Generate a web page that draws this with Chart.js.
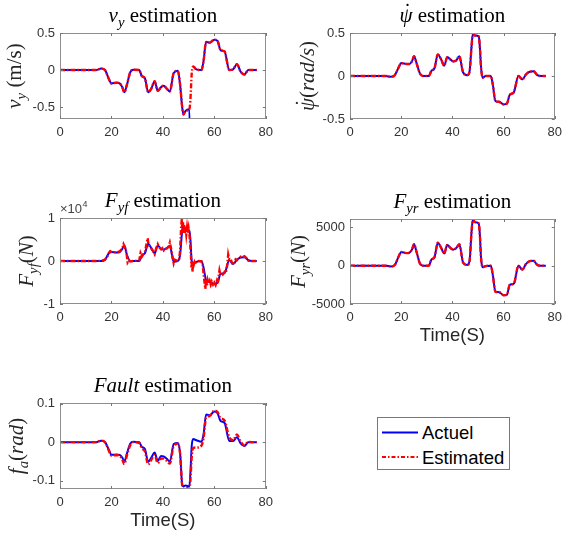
<!DOCTYPE html>
<html>
<head>
<meta charset="utf-8">
<script src="https://cdn.jsdelivr.net/npm/chart.js@4.4.0/dist/chart.umd.min.js"></script>
<style>
  body { margin: 0; background: #fff; }
  #fig { position: relative; width: 569px; height: 538px; overflow: hidden; background: #fff; }
  #fig canvas { position: absolute; }
  #legend { position: absolute; left: 0; top: 0; }
</style>
</head>
<body>
<div id="fig">
  <canvas id="vyChart"></canvas>
  <canvas id="psiChart"></canvas>
  <canvas id="fyfChart"></canvas>
  <canvas id="fyrChart"></canvas>
  <canvas id="faultChart"></canvas>
  <svg id="legend" width="569" height="538">
    <rect x="377.5" y="417.5" width="132" height="52" fill="#fff" stroke="#777" stroke-width="1"/>
    <line x1="382" y1="432.5" x2="418" y2="432.5" stroke="#0000ff" stroke-width="2"/>
    <line x1="382" y1="457" x2="418" y2="457" stroke="#ff0000" stroke-width="2" stroke-dasharray="4,2,1.5,2"/>
    <text x="422" y="439" font-family="Liberation Sans" font-size="18.5" fill="#000">Actuel</text>
    <text x="422" y="463.5" font-family="Liberation Sans" font-size="18.5" fill="#000">Estimated</text>
  </svg>
</div>
<script>
// time base (s) shared by the signals
const time = [0, 14, 16, 17.5, 19, 20, 22, 23.2, 24.2, 25, 26, 27.3, 28.5, 30.8, 31.8, 33, 34.3, 35.5, 36.8, 38,
  39.3, 40.3, 41.5, 42.7, 44.2, 45.8, 46.7, 47.5, 48, 48.8, 50.3, 50.7, 51.2, 51.8, 53, 55, 55.8, 56.8, 58.2, 60,
  61.3, 62.4, 64, 65.8, 67.3, 68.8, 70.2, 71.7, 73.2, 74.5, 76.5];

const vyActual = [0, 0, 0.02, 0, -0.12, -0.18, -0.17, -0.18, -0.23, -0.30, -0.2, -0.03, 0.005, 0, -0.08, -0.11, -0.30, -0.25, -0.15, -0.28,
  -0.23, -0.21, -0.25, -0.29, -0.04, -0.01, -0.2, -0.5, -0.6, -0.55, -0.53, -1.5, null, 0.05, 0.01, 0, 0.12, 0.38, 0.37, 0.41,
  0.39, 0.27, 0.25, 0, 0.01, 0.08, -0.02, -0.06, 0, 0, 0];
const vyEstimated = [0, 0, 0.02, 0, -0.12, -0.18, -0.17, -0.18, -0.23, -0.30, -0.2, -0.03, 0.005, 0, -0.08, -0.11, -0.30, -0.25, -0.15, -0.28,
  -0.23, -0.21, -0.25, -0.29, -0.04, -0.01, -0.2, -0.5, -0.6, -0.55, -0.53, -0.4, -0.05, 0.05, 0.01, 0, 0.12, 0.38, 0.37, 0.41,
  0.39, 0.27, 0.25, 0, 0.01, 0.08, -0.02, -0.06, 0, 0, 0];

const psiActual = [0, 0, -0.01, 0.01, 0.1, 0.15, 0.14, 0.14, 0.17, 0.23, 0.15, 0.03, 0, 0, 0.06, 0.09, 0.25, 0.2, 0.12, 0.22,
  0.19, 0.17, 0.18, 0.23, 0.04, 0.01, 0.05, 0.35, 0.49, 0.47, 0.46, 0.35, 0.1, -0.02, 0, 0, -0.1, -0.29, -0.3, -0.33,
  -0.32, -0.22, -0.19, 0, -0.04, 0.02, 0.05, 0.055, 0.01, 0, 0];
const psiEstimated = [0, 0, -0.01, 0.01, 0.1, 0.15, 0.14, 0.14, 0.17, 0.23, 0.15, 0.03, 0, 0, 0.06, 0.09, 0.25, 0.2, 0.12, 0.22,
  0.19, 0.17, 0.18, 0.23, 0.04, 0.01, 0.05, 0.35, 0.49, 0.47, 0.46, 0.35, 0.1, -0.02, 0, 0, -0.1, -0.29, -0.3, -0.33,
  -0.32, -0.22, -0.19, 0, -0.04, 0.02, 0.05, 0.055, 0.01, 0, 0];

const fyfActual = [0, 0, 0, 300, 1800, 2100, 2000, 2100, 2800, 3600, 1500, 0, 0, 0, 1300, 1800, 4000, 3000, 1800, 3600,
  2800, 2700, 3000, 3500, -200, 0, 1500, 7000, 8000, 7200, 7000, 5000, 0, -700, -200, 0, -1500, -4500, -4900, -5300,
  -5000, -3000, -2800, 200, -700, 300, 800, 900, 200, 0, 0];
// the estimated front force is noisy, so it has its own denser time base
const fyfEstTime = [0, 14, 16, 17.5, 18.5, 19, 19.5, 20, 21, 22, 23.2, 24.2, 24.7, 25, 25.5, 26, 26.3, 26.8, 27.3, 28.5,
  30.8, 31.3, 31.8, 32.3, 33, 33.8, 34.1, 34.4, 35, 35.5, 36.2, 36.8, 37.4, 38, 38.5, 39.3, 39.8, 40.3, 41, 41.5,
  42.2, 42.7, 43.1, 44.2, 44.6, 45.8, 46.3, 46.7, 47.1, 47.4, 47.6, 47.8, 48, 48.3, 48.5, 48.8, 49.1, 49.4, 49.7, 50,
  50.3, 50.6, 50.9, 51.1, 51.3, 51.5, 51.7, 52, 52.3, 52.6, 53, 54, 55, 55.5, 55.9, 56.2, 56.5, 56.8, 57.1, 57.4,
  57.8, 58.2, 58.6, 59, 59.5, 60, 60.5, 61, 61.3, 61.7, 62, 62.4, 62.8, 63.3, 64, 64.5, 65, 65.4, 65.8, 66.3,
  66.8, 67.3, 67.8, 68.3, 68.8, 69.5, 70.2, 70.8, 71.7, 72.5, 73.2, 74.5, 76.5];
const fyfEstimated = [0, 0, 50, 300, 1200, 1900, 2300, 2100, 2000, 2100, 2200, 2900, 3900, 3500, 2800, 1200, -300, 200, -100, 0,
  100, 1800, 1000, 1500, 2000, 4500, 5300, 3800, 3300, 2900, 2300, 1600, 3000, 3900, 3200, 2700, 3000, 2500, 3100, 2900,
  3300, 4300, 3200, -500, 300, 0, 200, 2500, 8000, 10000, 6500, 9000, 7000, 8500, 6500, 8000, 6200, 7800, 6400, 7600,
  6300, 4000, 1500, -1500, 200, -2500, -400, -900, -300, -800, -100, 0, -100, -1000, -3500, -5000, -6500, -4200, -5800, -4400,
  -5200, -4600, -5500, -4800, -5500, -5000, -5600, -4600, -5200, -3500, -2200, -3200, -2700, -3100, -2500, -2800, -1000, 1500, 400, 500,
  -300, -900, -400, 400, 200, 700, 1000, 800, 1100, 700, 100, 0, 0];

const fyrActual = [0, 0, -100, 100, 1200, 1800, 1650, 1700, 2100, 2800, 1800, 300, 0, 0, 800, 1100, 3000, 2400, 1600, 2700,
  2300, 2100, 2300, 2800, 400, 100, 600, 4500, 6050, 5700, 5500, 4200, 1000, -200, -50, 0, -1200, -3400, -3450, -3850,
  -3800, -2500, -2350, 0, -500, 250, 600, 650, 100, 0, 0];
const fyrEstimated = [0, 0, -100, 100, 1200, 1800, 1650, 1700, 2100, 2800, 1800, 300, 0, 0, 800, 1100, 3000, 2400, 1600, 2700,
  2300, 2100, 2300, 2800, 400, 100, 600, 4500, 6050, 5700, 5500, 4200, 1000, -200, -50, 0, -1200, -3400, -3450, -3850,
  -3800, -2500, -2350, 0, -500, 250, 600, 650, 100, 0, 0];

const faultActual = [0, 0, 0.004, 0, -0.02, -0.033, -0.032, -0.033, -0.04, -0.051, -0.03, -0.004, 0.001, 0, -0.012, -0.018, -0.051, -0.04, -0.027, -0.049,
  -0.036, -0.037, -0.043, -0.051, -0.005, -0.002, -0.03, -0.11, -0.115, -0.113, -0.115, -0.08, -0.01, 0.008, 0.005, 0.001, 0.02, 0.072, 0.07, 0.08,
  0.075, 0.055, 0.05, 0.003, 0.003, 0.013, -0.003, -0.01, 0, 0, 0];
const faultEstimated = [0, 0, 0.004, 0, -0.022, -0.035, -0.034, -0.036, -0.045, -0.057, -0.035, -0.008, 0, -0.002, -0.016, -0.024, -0.058, -0.046, -0.033, -0.055,
  -0.043, -0.043, -0.049, -0.056, -0.01, -0.004, -0.03, -0.113, -0.12, -0.118, -0.122, -0.1, -0.04, -0.015, -0.014, -0.009, 0.01, 0.064, 0.068, 0.082,
  0.078, 0.063, 0.056, 0.013, 0.005, 0.02, 0.002, -0.008, 0.001, 0, 0];

// tick values
const xTickValues = [0, 20, 40, 60, 80];
const vyTicks = [-0.5, 0, 0.5];
const psiTicks = [-0.5, 0, 0.5];
const fyfTicks = [-10000, 0, 10000];
const fyrTicks = [-5000, 0, 5000];
const faultTicks = [-0.1, 0, 0.1];

Chart.defaults.font.family = '"Liberation Sans", Arial, sans-serif';

const SERIF = '"Liberation Serif", "Times New Roman", serif';

// draws a line of text made of pieces: r = roman, i = italic, s = subscript italic, d = italic with dot above
function drawRich(ctx, parts, x, y, size) {
  const items = parts.map(([txt, st]) => {
    const sub = st === 's';
    const fs = sub ? size * 0.7 : size;
    const font = (st === 'r' ? '' : 'italic ') + fs + 'px ' + SERIF;
    ctx.font = font;
    return { txt, st, font, w: ctx.measureText(txt).width, dy: sub ? size * 0.22 : 0 };
  });
  const total = items.reduce((a, b) => a + b.w, 0);
  let cx = x - total / 2;
  ctx.textBaseline = 'alphabetic';
  items.forEach(it => {
    ctx.textAlign = 'left';
    ctx.font = it.font;
    ctx.fillText(it.txt, cx, y + it.dy);
    if (it.st === 'd') {
      ctx.textAlign = 'center';
      ctx.font = size + 'px ' + SERIF;
      ctx.fillText('\u02d9', cx + it.w * 0.62, y - size * 0.2);
    }
    cx += it.w;
  });
}

const panels = [
  {
    id: 'vyChart', box: [60, 33, 273, 119], bottom: 24,
    yMin: -0.66, yMax: 0.5, yTicks: vyTicks,
    actual: vyActual, estimated: vyEstimated, estTime: time,
    title: [['v', 'i'], ['y', 's'], [' estimation', 'r']],
    ylabel: [['v', 'i'], ['y', 's'], [' (m/s)', 'r']], ylabelX: 21
  },
  {
    id: 'psiChart', box: [350, 33, 562, 119], bottom: 24,
    yMin: -0.5, yMax: 0.5, yTicks: psiTicks,
    actual: psiActual, estimated: psiEstimated, estTime: time,
    title: [['\u03c8', 'd'], [' estimation', 'r']],
    ylabel: [['\u03c8', 'd'], ['(', 'r'], ['rad/s', 'i'], [')', 'r']], ylabelX: 24
  },
  {
    id: 'fyfChart', box: [60, 218, 273, 304], bottom: 24,
    yMin: -10000, yMax: 10000, yTicks: fyfTicks, scaleDiv: 1e4, exponent: true,
    actual: fyfActual, estimated: fyfEstimated, estTime: fyfEstTime, jagged: true,
    title: [['F', 'i'], ['yf', 's'], [' estimation', 'r']],
    ylabel: [['F', 'i'], ['yf', 's'], ['(', 'r'], ['N', 'i'], [')', 'r']], ylabelX: 33
  },
  {
    id: 'fyrChart', box: [350, 219, 562, 304], bottom: 50, xlabel: true,
    yMin: -5000, yMax: 6100, yTicks: fyrTicks,
    actual: fyrActual, estimated: fyrEstimated, estTime: time,
    title: [['F', 'i'], ['yr', 's'], [' estimation', 'r']],
    ylabel: [['F', 'i'], ['yr', 's'], ['(', 'r'], ['N', 'i'], [')', 'r']], ylabelX: 15
  },
  {
    id: 'faultChart', box: [60, 403, 273, 489], bottom: 50, xlabel: true,
    yMin: -0.122, yMax: 0.102, yTicks: faultTicks,
    actual: faultActual, estimated: faultEstimated, estTime: time,
    title: [['Fault', 'i'], [' estimation', 'r']],
    ylabel: [['f', 'i'], ['a', 's'], ['(', 'r'], ['rad', 'i'], [')', 'r']], ylabelX: 23
  }
];

const PAD_TOP = 33, Y_W = 60, PAD_R = 6;

panels.forEach(p => {
  const [L, T, R, B] = p.box;
  const canvas = document.getElementById(p.id);
  canvas.width = (R - L) + Y_W + PAD_R;
  canvas.height = (B - T) + PAD_TOP + p.bottom;
  canvas.style.left = (L - Y_W) + 'px';
  canvas.style.top = (T - PAD_TOP) + 'px';

  const frame = {
    id: 'frame_' + p.id,
    afterDraw(chart) {
      const ctx = chart.ctx;
      const a = chart.chartArea;
      const xs = chart.scales.x, ys = chart.scales.y;
      ctx.save();
      // box
      ctx.strokeStyle = '#8e8e8e';
      ctx.lineWidth = 1;
      ctx.strokeRect(Math.round(a.left) + 0.5, Math.round(a.top) + 0.5,
        Math.round(a.right - a.left) - 1, Math.round(a.bottom - a.top) - 1);
      // inward ticks
      ctx.strokeStyle = '#777';
      ctx.beginPath();
      xs.ticks.forEach(t => {
        const px = Math.round(xs.getPixelForValue(t.value)) + 0.5;
        ctx.moveTo(px, a.bottom); ctx.lineTo(px, a.bottom - 3);
        ctx.moveTo(px, a.top); ctx.lineTo(px, a.top + 3);
      });
      ys.ticks.forEach(t => {
        const py = Math.round(ys.getPixelForValue(t.value)) + 0.5;
        ctx.moveTo(a.left, py); ctx.lineTo(a.left + 3, py);
        ctx.moveTo(a.right, py); ctx.lineTo(a.right - 3, py);
      });
      ctx.stroke();
      // title
      ctx.fillStyle = '#000';
      drawRich(ctx, p.title, (a.left + a.right) / 2, a.top - 11, 21);
      // y label
      ctx.fillStyle = '#262626';
      ctx.save();
      ctx.translate(p.ylabelX, (a.top + a.bottom) / 2);
      ctx.rotate(-Math.PI / 2);
      drawRich(ctx, p.ylabel, 0, 0, 21);
      ctx.restore();
      // x label
      if (p.xlabel) {
        ctx.font = '18.5px "Liberation Sans", Arial, sans-serif';
        ctx.textAlign = 'center';
        ctx.textBaseline = 'alphabetic';
        ctx.fillStyle = '#262626';
        ctx.fillText('Time(S)', (a.left + a.right) / 2, a.bottom + 37);
      }
      // exponent marker
      if (p.exponent) {
        ctx.fillStyle = '#444';
        ctx.textAlign = 'left';
        ctx.font = '13px "Liberation Sans", Arial, sans-serif';
        ctx.fillText('\u00d710', a.left, a.top - 5);
        const w = ctx.measureText('\u00d710').width;
        ctx.font = '9px "Liberation Sans", Arial, sans-serif';
        ctx.fillText('4', a.left + w + 0.5, a.top - 11);
      }
      ctx.restore();
    }
  };

  const toPoints = (xs, ys) => xs.map((x, i) => ({ x: x, y: ys[i] }));
  const asTicks = vals => vals.map(v => ({ value: v }));

  new Chart(canvas, {
    type: 'line',
    data: {
      datasets: [
        {
          label: 'Actuel',
          data: toPoints(time, p.actual),
          borderColor: '#0000ff',
          borderWidth: 2,
          pointRadius: 0,
          cubicInterpolationMode: 'monotone',
          spanGaps: false,
          order: 2
        },
        {
          label: 'Estimated',
          data: toPoints(p.estTime, p.estimated),
          borderColor: '#ff0000',
          borderWidth: 2.4,
          borderDash: [5, 2, 1.5, 2],
          pointRadius: 0,
          cubicInterpolationMode: p.jagged ? 'default' : 'monotone',
          tension: 0,
          order: 1
        }
      ]
    },
    options: {
      responsive: false,
      animation: false,
      events: [],
      layout: { padding: { top: PAD_TOP, right: PAD_R, left: 0, bottom: 0 } },
      plugins: { legend: { display: false }, tooltip: { enabled: false } },
      scales: {
        x: {
          type: 'linear', min: 0, max: 80,
          grid: { display: false, drawTicks: false },
          border: { display: false },
          ticks: { padding: 6, color: '#333', font: { size: 13 }, maxRotation: 0, autoSkip: false },
          afterBuildTicks(s) { s.ticks = asTicks(xTickValues); },
          afterFit(s) { s.height = p.bottom; }
        },
        y: {
          type: 'linear', min: p.yMin, max: p.yMax,
          grid: { display: false, drawTicks: false },
          border: { display: false },
          ticks: { padding: 5, color: '#333', font: { size: 13 }, autoSkip: false,
            callback: v => String(Math.round((v / (p.scaleDiv || 1)) * 1000) / 1000) },
          afterBuildTicks(s) { s.ticks = asTicks(p.yTicks); },
          afterFit(s) { s.width = Y_W; }
        }
      }
    },
    plugins: [frame]
  });
});
</script>
</body>
</html>
